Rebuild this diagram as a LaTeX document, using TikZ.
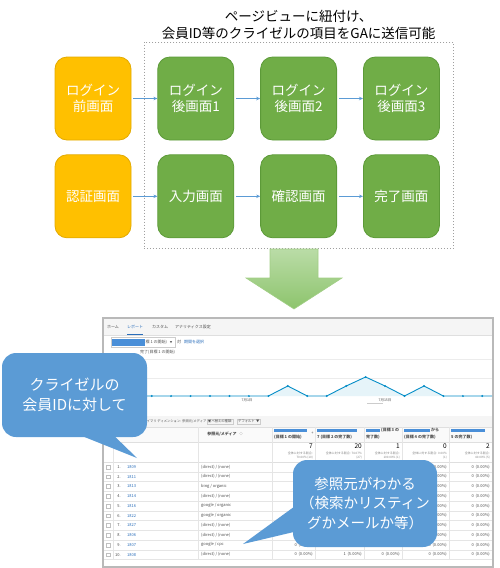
\documentclass[tikz,border=0pt]{standalone}
\usepackage{fontspec}
\setmainfont{Noto Sans CJK JP}
\usetikzlibrary{positioning}
\usetikzlibrary{arrows.meta}
\usetikzlibrary{fit}
\definecolor{preOrange}{HTML}{FFC000}
\definecolor{preEdge}{HTML}{E3AA00}
\definecolor{postGreen}{HTML}{70AD47}
\definecolor{postEdge}{HTML}{5C9A38}
\definecolor{flowBlue}{HTML}{5B9BD5}
\definecolor{noteBlue}{HTML}{5B9BD5}
\definecolor{gaBlue}{HTML}{058DC7}
\definecolor{linkBlue}{HTML}{2A6EBB}
\definecolor{barBlue}{HTML}{4A8FD8}
\definecolor{arrowTop}{HTML}{BADCA7}
\definecolor{arrowBot}{HTML}{8DC46C}
\definecolor{arrowEdge}{HTML}{A2CE86}
\def\shotFont{\fontsize{4}{4.8}\selectfont}
\tikzset{% page flow styles
  pagebox/.style   = {rectangle, rounded corners=12pt, minimum width=76pt,
    minimum height=83pt, text=white, align=center, line width=0.8pt,
    font=\fontsize{13.5}{16.5}\selectfont},
  beforebox/.style = {pagebox, fill=preOrange, draw=preEdge},
  afterbox/.style  = {pagebox, fill=postGreen, draw=postEdge},
  flow/.style      = {->, draw=flowBlue, line width=0.7pt, shorten <=2pt},
  note/.style      = {rectangle, rounded corners=14pt, fill=noteBlue, text=white, align=center},
  shottext/.style  = {inner sep=0, font=\shotFont, text=gray!60!black},
}

\begin{document}
\begin{tikzpicture}[x=1pt, y=-1pt, >={Stealth[length=4pt, width=3.5pt]}]
  \useasboundingbox (0,0) rectangle (500,568);

  % Pages before / after login
  \node[beforebox] (login0) at (93,98.5) {ログイン\\前画面};
  \node[afterbox, right=26pt of login0] (login1) {ログイン\\後画面1};
  \node[afterbox, right=26pt of login1] (login2) {ログイン\\後画面2};
  \node[afterbox, right=26pt of login2] (login3) {ログイン\\後画面3};

  \node[beforebox, below=14pt of login0] (auth) {認証画面};
  \node[afterbox, right=26pt of auth] (entry) {入力画面};
  \node[afterbox, right=26pt of entry] (confirm) {確認画面};
  \node[afterbox, right=26pt of confirm] (finish) {完了画面};

  \draw[flow] (login0) -- (login1);
  \draw[flow] (login1) -- (login2);
  \draw[flow] (login2) -- (login3);
  \draw[flow] (auth) -- (entry);
  \draw[flow] (entry) -- (confirm);
  \draw[flow] (confirm) -- (finish);

  % Tracked pages
  \node[fit={(login1)(finish)}, inner xsep=13.5pt, inner ysep=12.5pt, yshift=2pt,
    draw=gray!75, dash pattern=on 1.5pt off 1.5pt, line width=0.6pt] (tracked) {};
  \node[above=0pt of tracked, align=center, inner sep=2pt,
    font=\fontsize{13.5}{17}\selectfont] (title)
    {ページビューに紐付け、\\会員ID等のクライゼルの項目をGAに送信可能};

  % Big arrow
  \shade[top color=arrowTop, bottom color=arrowBot, draw=arrowEdge, line width=0.6pt]
    (270,249) -- (318,249) -- (318,278) -- (342,278) -- (294,309) -- (246,278) -- (270,278) -- cycle;

  % Analytics screenshot
  \draw[gray!55, line width=1.2pt, fill=white] (103,318) rectangle (493,567);
  \fill[gray!8] (104,319) rectangle (492,335);
  \draw[gray!25] (104,335) -- (492,335);
  \node[shottext] (tabHome) at (113,327) {ホーム};
  \node[shottext, text=linkBlue] (tabReport) at (135,327) {レポート};
  \draw[linkBlue, line width=0.8pt] (127,334) -- (143,334);
  \node[shottext] (tabCustom) at (160,327) {カスタム};
  \node[shottext] (tabAdmin) at (193,327) {アナリティクス設定};

  \draw[gray!40, line width=0.3pt] (111,337.5) rectangle (175,347);
  \fill[barBlue] (112,339) rectangle (145,345.5);
  \node[shottext, anchor=west] at (145.5,342.2) {標 1 の開始)};
  \node[shottext, font=\fontsize{2.5}{3}\selectfont] at (171,342.2) {▼};
  \node[shottext, anchor=west] at (177,342.2) {対};
  \node[shottext, anchor=west, text=linkBlue] at (184,342.2) {期間を選択};
  \node[shottext, anchor=west] at (140,352.5) {完了(目標 1 の開始)};

  % chart
  \draw[gray!15] (104,359) -- (492,359);
  \draw[gray!15] (104,378) -- (492,378);
  \fill[gaBlue!10] (268.4,396) -- (287.8,386) -- (307.3,396) -- cycle;
  \fill[gaBlue!10] (326.7,396) -- (346.2,386) -- (365.6,377) -- (385.1,386) -- (404.5,396) -- cycle;
  \fill[gaBlue!10] (404.5,396) -- (424,386) -- (443.4,396) -- cycle;
  \draw[gaBlue, line width=0.9pt] plot coordinates {(104,396) (112.8,396) (132.3,396)
    (151.7,396) (171.1,396) (190.6,396) (210,396) (229.5,396) (248.9,396) (268.4,396)
    (287.8,386) (307.3,396) (326.7,396) (346.2,386) (365.6,377) (385.1,386) (404.5,396)
    (424,386) (443.4,396) (462.9,396) (482.3,396) (492,396)};
  \foreach \px/\py in {112.8/396, 132.3/396, 151.7/396, 171.1/396, 190.6/396, 210/396,
    229.5/396, 248.9/396, 268.4/396, 287.8/386, 307.3/396, 326.7/396, 346.2/386,
    365.6/377, 385.1/386, 404.5/396, 424/386, 443.4/396, 462.9/396, 482.3/396}
    \fill[gaBlue] (\px,\py) circle (1.1pt);
  \node[shottext, font=\fontsize{3.5}{4}\selectfont] at (247,400) {7月1日};
  \node[shottext, font=\fontsize{3.5}{4}\selectfont] at (385,400) {7月15日};
  \draw[gray!40, line width=0.5pt] (367,403) -- (383,403);

  % table
  \fill[gray!8] (104,416) rectangle (492,427);
  \node[shottext, anchor=west, font=\fontsize{3.3}{4}\selectfont] at (140,421.5)
    {プライマリ ディメンション: 参照元/メディア \ ▼};
  \node[shottext, anchor=west, draw=gray!40, inner sep=1pt, font=\fontsize{3.3}{4}\selectfont]
    at (207,421.5) {並べ替えの種類:};
  \node[shottext, anchor=west, draw=gray!40, inner sep=1pt, font=\fontsize{3.3}{4}\selectfont]
    at (237,421.5) {デフォルト \ ▼};
  \fill[gray!4] (104,427) rectangle (492,442);
  \draw[gray!25] (104,427) -- (492,427);
  \draw[gray!25] (104,442) -- (492,442);
  \draw[gray!25] (104,462) -- (492,462);
  \foreach \cx in {113,198,272,315,364,402,449}
    \draw[gray!20] (\cx,427) -- (\cx,559.5);
  \node[shottext, font=\shotFont\bfseries] at (222,434) {参照元/メディア};
  \draw[gray!45, line width=0.3pt] (241,433.5) circle (1.5pt);
  \foreach \l/\r/\extra/\cap in {272/307/{}/(目標 1 の開始), 315/357/{}/7 (目標 2 の完了数),
    364/380/(目標 3 の/完了数), 402/430/から/(目標 4 の完了数), 449/485/{}/5 の完了数)} {
    \fill[barBlue] (\l+2,428.5) rectangle (\r,431.5);
    \node[shottext, anchor=west, font=\shotFont\bfseries] at (\r+1,430) {\extra};
    \node[shottext, anchor=west, font=\shotFont\bfseries] at (\l+2,437) {\cap};
  }
  \node[shottext] at (312.5,433) {+};
  \foreach \r/\tot/\share in {313/7/{全体に対する割合:\\70.00\% (10)},
    362/20/{全体に対する割合: 74.07\%\\(27)}, 400/1/{全体に対する割合:\\100.00\% (1)},
    447/0/{全体に対する割合: 0.00\%\\(1)}, 490/2/{全体に対する割合:\\40.00\% (5)}} {
    \node[shottext, anchor=north east, text=black, font=\fontsize{6.5}{7}\selectfont] at (\r,443.5) {\tot};
    \node[shottext, anchor=north east, align=right, text=gray,
      font=\fontsize{3}{3.8}\selectfont] at (\r,451.5) {\share};
  }
  \foreach \id/\src [count=\k] in {1809/{(direct) / (none)}, 1811/{(direct) / (none)},
    1813/{bing / organic}, 1814/{(direct) / (none)}, 1816/{google / organic},
    1822/{google / organic}, 1827/{(direct) / (none)}, 1806/{(direct) / (none)},
    1807/{google / cpc}, 1808/{(direct) / (none)}} {
    \pgfmathsetmacro\ry{462+(\k-0.5)*9.75}
    \draw[gray!20] (104,\ry+4.875) -- (492,\ry+4.875);
    \draw[gray!50, line width=0.3pt] (106.5,\ry-1.8) rectangle (110.1,\ry+1.8);
    \node[shottext, anchor=east] at (121,\ry) {\k.};
    \node[shottext, anchor=west, text=linkBlue] at (127,\ry) {\id};
    \node[shottext, anchor=west] at (201,\ry) {\src};
    \ifnum\k>8 \node[shottext, anchor=east] at (313,\ry) {0 \ (0.00\%)}; \fi
    \foreach \r in {447,490}
      \node[shottext, anchor=east] at (\r,\ry) {0 \ (0.00\%)};
  }
  % last row, below the callout
  \node[shottext, anchor=east] at (362,554.6) {1 \ (5.00\%)};
  \node[shottext, anchor=east] at (400,554.6) {0 \ (0.00\%)};

  % Callouts
  \node[note, minimum width=145pt, minimum height=84pt,
    font=\fontsize{15}{20}\selectfont] (idnote) at (74.5,395) {クライゼルの\\会員IDに対して};
  \coordinate (idtip) at (137,458);
  \fill[noteBlue] ([xshift=8pt, yshift=1pt]idnote.south) -- (idtip) -- ([xshift=40pt, yshift=1pt]idnote.south) -- cycle;

  \node[note, minimum width=144pt, minimum height=87pt,
    font=\fontsize{14.5}{19.5}\selectfont] (srcnote) at (365,503.5)
    {参照元がわかる\\（検索かリスティン\\グかメールか等）};
  \coordinate (srctip) at (243,544);
  \fill[noteBlue] ([xshift=1pt, yshift=-3.5pt]srcnote.west) -- (srctip) -- ([xshift=1pt, yshift=-28.5pt]srcnote.west) -- cycle;
\end{tikzpicture}
\end{document}
